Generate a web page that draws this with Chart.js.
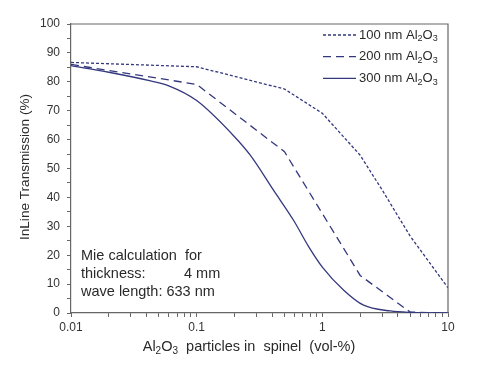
<!DOCTYPE html>
<html>
<head>
<meta charset="utf-8">
<script src="https://cdn.jsdelivr.net/npm/chart.js@4.4.0/dist/chart.umd.min.js"></script>
<style>
  body { margin: 0; background: #fff; }
  #wrap { width: 500px; height: 374px; }
</style>
</head>
<body>
<div id="wrap"><canvas id="myChart"></canvas></div>
<script>
// DATA
const x100 = [0.01, 0.1, 0.5, 1, 2, 3, 5, 10];
const t100 = [86.7, 85.2, 77.5, 69.1, 54.6, 42.5, 26.6, 8.7];
const x200 = [0.01, 0.1, 0.5, 2, 5, 10];
const t200 = [86, 79.1, 55.8, 13, 0.3, 0];
const x300 = [0.01, 0.02, 0.043, 0.06, 0.1, 0.2, 0.267, 0.41, 0.59, 0.78, 1, 1.48, 2.13, 3.48, 5, 10];
const t300 = [85.6, 83.3, 80.3, 78.6, 73.5, 61, 54.6, 42.4, 32.1, 22.9, 15.9, 7.9, 2.7, 0.7, 0.2, 0];
const seriesNames = ["100 nm", "200 nm", "300 nm"];
const xMajorTicks = [0.01, 0.1, 1, 10];
const yMajorTicks = [0, 10, 20, 30, 40, 50, 60, 70, 80, 90, 100];
const noteLines = ["Mie calculation  for", "thickness:", "wave length: 633 nm"];

const ctx = document.querySelector("#myChart");
const lineColor = "#34387c";
const axisColor = "#666";
const textColor = "#2a2a2a";
const fontName = "'Liberation Sans', Arial, sans-serif";

function toPoints(xs, ys) {
  return xs.map((x, i) => ({ x: x, y: ys[i] }));
}

// minor ticks on the log axis: 2..9 in each decade
const xTickValues = [];
xMajorTicks.forEach((m, i) => {
  xTickValues.push(m);
  if (i < xMajorTicks.length - 1) {
    for (let k = 2; k <= 9; k++) xTickValues.push(+(m * k).toPrecision(3));
  }
});

// draw text with Al2O3 style subscripts; parts: [string, isSub]
function drawRich(c, parts, x, y, size, measureOnly) {
  let cx = x;
  parts.forEach(([s, sub]) => {
    const fs = sub ? Math.round(size * 0.7) : size;
    c.font = fs + "px " + fontName;
    if (!measureOnly) c.fillText(s, cx, sub ? y + size * 0.28 : y);
    cx += c.measureText(s).width;
  });
  return cx - x;
}
function al2o3(before, after) {
  return [[before + "Al", false], ["2", true], ["O", false], ["3", true], [after, false]];
}

const extrasPlugin = {
  id: "extras",
  afterDraw(chart) {
    const c = chart.ctx;
    const a = chart.chartArea;
    c.save();
    // frame top and right
    c.strokeStyle = axisColor;
    c.lineWidth = 1.2;
    c.beginPath();
    c.moveTo(a.left, a.top);
    c.lineTo(a.right, a.top);
    c.lineTo(a.right, a.bottom);
    c.stroke();

    c.fillStyle = textColor;
    c.textBaseline = "middle";
    c.textAlign = "left";

    // legend
    chart.data.datasets.forEach((ds, i) => {
      const y = 35 + i * 21.7;
      c.strokeStyle = ds.borderColor;
      c.lineWidth = ds.borderWidth;
      c.setLineDash(ds.borderDash || []);
      c.beginPath();
      c.moveTo(323, y);
      c.lineTo(356, y);
      c.stroke();
      c.setLineDash([]);
      drawRich(c, al2o3(seriesNames[i] + " ", ""), 359, y, 13);
    });

    // note
    c.font = "14.5px " + fontName;
    c.fillText(noteLines[0], 81, 256);
    c.fillText(noteLines[1], 81, 274);
    c.fillText("4 mm", 184, 274);
    c.fillText(noteLines[2], 81, 292);

    // x title, centred on 249
    const xt = al2o3("", "  particles in  spinel  (vol-%)");
    const w = drawRich(c, xt, 0, 0, 14.5, true);
    drawRich(c, xt, 249 - w / 2, 347, 14.5);

    // y title
    c.translate(25, 167);
    c.rotate(-Math.PI / 2);
    c.textAlign = "center";
    c.font = "13.6px " + fontName;
    c.fillText("InLine Transmission (%)", 0, 0);
    c.restore();
  }
};

const common = {
  borderColor: lineColor,
  borderWidth: 1.3,
  pointRadius: 0,
  fill: false,
};

new Chart(ctx, {
  type: "line",
  data: {
    datasets: [
      { ...common, data: toPoints(x100, t100), borderDash: [3, 2], tension: 0 },
      { ...common, data: toPoints(x200, t200), borderDash: [8, 5], tension: 0 },
      { ...common, data: toPoints(x300, t300), cubicInterpolationMode: "monotone" },
    ],
  },
  options: {
    responsive: true,
    maintainAspectRatio: false,
    animation: false,
    layout: { padding: { top: 24, right: 52, left: 0, bottom: 0 } },
    plugins: { legend: { display: false }, tooltip: { enabled: false } },
    scales: {
      x: {
        type: "logarithmic",
        min: 0.01,
        max: 10,
        afterBuildTicks: (scale) => {
          scale.ticks = xTickValues.map((v) => ({ value: v }));
        },
        afterFit: (scale) => {
          scale.height = 61;
        },
        ticks: {
          autoSkip: false,
          maxRotation: 0,
          padding: 3,
          color: "#333",
          font: { family: fontName, size: 12 },
          callback: (v) => (xMajorTicks.includes(v) ? String(v) : ""),
        },
        grid: { drawOnChartArea: false, tickLength: 4, color: axisColor, lineWidth: 1 },
        border: { color: axisColor, width: 1.2 },
      },
      y: {
        min: 0,
        max: 100,
        afterFit: (scale) => {
          scale.width = 71;
        },
        ticks: {
          stepSize: 5,
          autoSkip: false,
          padding: 7,
          color: "#333",
          font: { family: fontName, size: 12 },
          callback: (v) => (yMajorTicks.includes(v) ? String(v) : ""),
        },
        grid: { drawOnChartArea: false, tickLength: 4, color: axisColor, lineWidth: 1 },
        border: { color: axisColor, width: 1.2 },
      },
    },
  },
  plugins: [extrasPlugin],
});
</script>
</body>
</html>
